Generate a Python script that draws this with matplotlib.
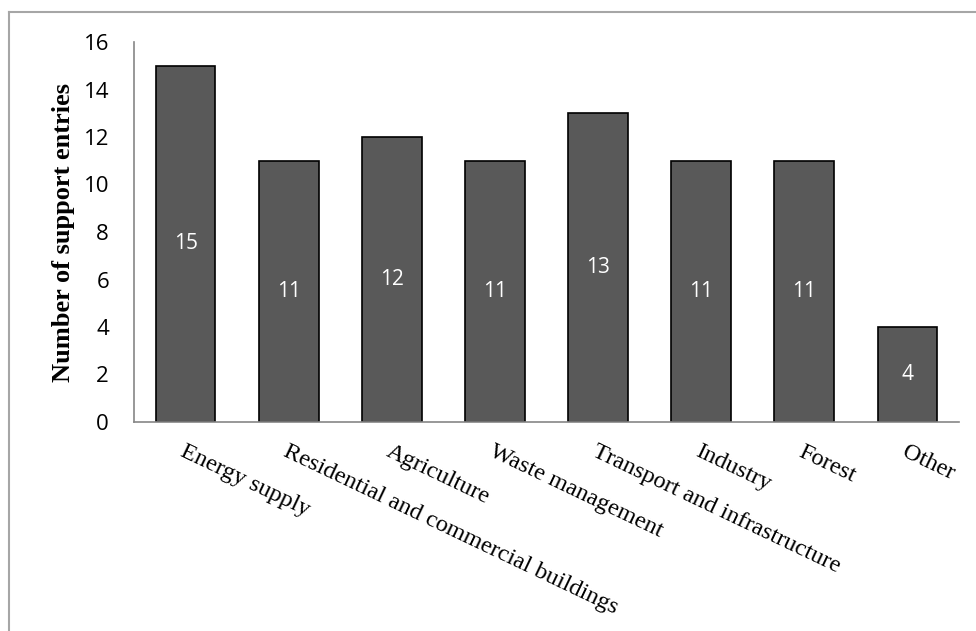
import matplotlib.pyplot as plt
from matplotlib.lines import Line2D

categorias = ['Energy supply', 'Residential and commercial buildings', 'Agriculture',
              'Waste management', 'Transport and infrastructure', 'Industry', 'Forest', 'Other']
valores = [15, 11, 12, 11, 13, 11, 11, 4]
ticks_y = [0, 2, 4, 6, 8, 10, 12, 14, 16]

fig = plt.figure(figsize=(9.76, 6.31), dpi=100)
ax = fig.add_axes([134/976, 1 - 422/631, (959 - 134)/976, (422 - 42)/631])

# Borde exterior (solo arriba e izquierda, el resto queda recortado)
fig.add_artist(Line2D([9/976, 1], [1 - 12/631, 1 - 12/631], color='#a6a6a6', lw=1.5))
fig.add_artist(Line2D([9/976, 9/976], [0, 1 - 12/631], color='#a6a6a6', lw=1.5))

x = range(len(categorias))
barras = ax.bar(x, valores, width=0.58, color='#595959', edgecolor='black', linewidth=1.2)

for b, v in zip(barras, valores):
    ax.text(b.get_x() + b.get_width()/2, v/2, str(v), ha='center', va='center',
            color='white', fontsize=15, family='Open Sans')

ax.set_xlim(-0.5, len(categorias) - 0.5)
ax.set_ylim(0, 16)
ax.set_yticks(ticks_y)
ax.set_yticklabels([str(t) for t in ticks_y], fontsize=16, family='Open Sans')
ax.tick_params(axis='y', length=0, pad=18)
ax.tick_params(axis='x', length=0, pad=14)

ax.set_xticks(list(x))
ax.set_xticklabels(categorias, rotation=-25.5, ha='left', va='top', rotation_mode='anchor',
                   fontsize=17.5, family='Liberation Serif')

ax.set_ylabel('Number of support entries', fontsize=19, family='Liberation Serif',
              fontweight='bold', labelpad=6)

for s in ['top', 'right']:
    ax.spines[s].set_visible(False)
ax.spines['left'].set_color('#868686')
ax.spines['bottom'].set_color('#868686')
ax.spines['left'].set_linewidth(1.2)
ax.spines['bottom'].set_linewidth(1.2)

fig.savefig('out.png', dpi=100)
